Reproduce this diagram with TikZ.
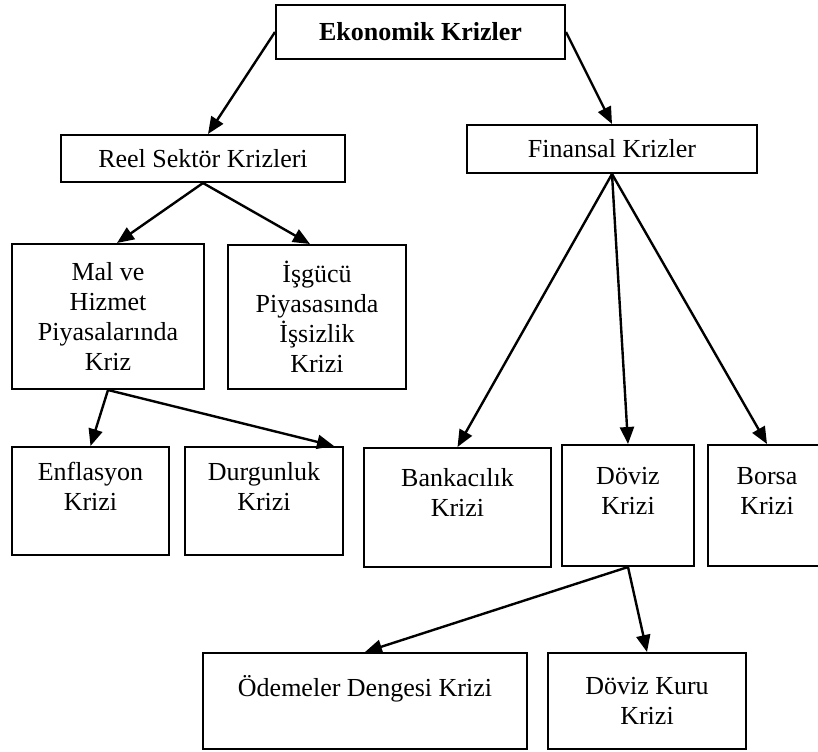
\documentclass[tikz,border=0pt]{standalone}
\usepackage{fontspec}
\setmainfont{Liberation Serif}
\usetikzlibrary{arrows.meta}

\begin{document}
\begin{tikzpicture}[x=0.5pt,y=-0.5pt,
  kutu/.style={draw,line width=1pt,align=center,inner sep=0pt,
    font=\fontsize{13pt}{15pt}\selectfont},
  ok/.style={line width=1.2pt,-{Triangle[length=8.5pt,width=7pt]}}]
\useasboundingbox (0,0) rectangle (818,751);
% ust seviye
\node[kutu,minimum width=144.5pt,minimum height=27pt,font=\fontsize{13pt}{15pt}\selectfont\bfseries] (ekon) at (420.5,32) {Ekonomik Krizler};
\node[kutu,minimum width=142pt,minimum height=23.5pt] (reel) at (203,158.5) {Reel Sektör Krizleri};
\node[kutu,minimum width=145pt,minimum height=24pt] (finans) at (612,149) {Finansal Krizler};
% reel sektor kollari
\node[kutu,minimum width=96pt,minimum height=72.5pt] (mal) at (108,316.5) {Mal ve\\Hizmet\\Piyasalarında\\Kriz};
\node[kutu,minimum width=89pt,minimum height=72pt] (isgucu) at (317,317) {İşgücü\\Piyasasında\\İşsizlik\\Krizi};
\node[kutu,minimum width=78.5pt,minimum height=54pt] (enf) at (90.5,501) {Enflasyon\\Krizi\\\mbox{}};
\node[kutu,minimum width=79pt,minimum height=54pt] (durg) at (264,501) {Durgunluk\\Krizi\\\mbox{}};
% finansal kollar
\node[kutu,minimum width=93.5pt,minimum height=59.5pt] (bank) at (457.5,507.5) {Bankacılık\\Krizi\\\mbox{}};
\node[kutu,minimum width=66pt,minimum height=60.5pt] (doviz) at (628,505.5) {Döviz\\Krizi\\\mbox{}};
\node[kutu,minimum width=59pt,minimum height=60.5pt] (borsa) at (767,505.5) {Borsa\\Krizi\\\mbox{}};
\node[kutu,minimum width=162pt,minimum height=48pt] (odeme) at (365,701) {Ödemeler Dengesi Krizi\\\mbox{}};
\node[kutu,minimum width=99pt,minimum height=48pt] (kur) at (647,701) {Döviz Kuru\\Krizi};
% oklar
\draw[ok] (ekon.west) -- ([xshift=2.5pt]reel.north);
\draw[ok] (ekon.east) -- (finans.north);
\draw[ok] (reel.south) -- ([xshift=4.5pt]mal.north);
\draw[ok] (reel.south) -- ([xshift=-3.5pt]isgucu.north);
\draw[ok] (mal.south) -- (enf.north);
\draw[ok] (mal.south) -- ([xshift=-5pt]durg.north east);
\draw[ok] (finans.south) -- (bank.north);
\draw[ok] (finans.south) -- (doviz.north);
\draw[ok] (finans.south) -- (borsa.north);
\draw[ok] (doviz.south) -- (odeme.north);
\draw[ok] (doviz.south) -- (kur.north);
\end{tikzpicture}
\end{document}
